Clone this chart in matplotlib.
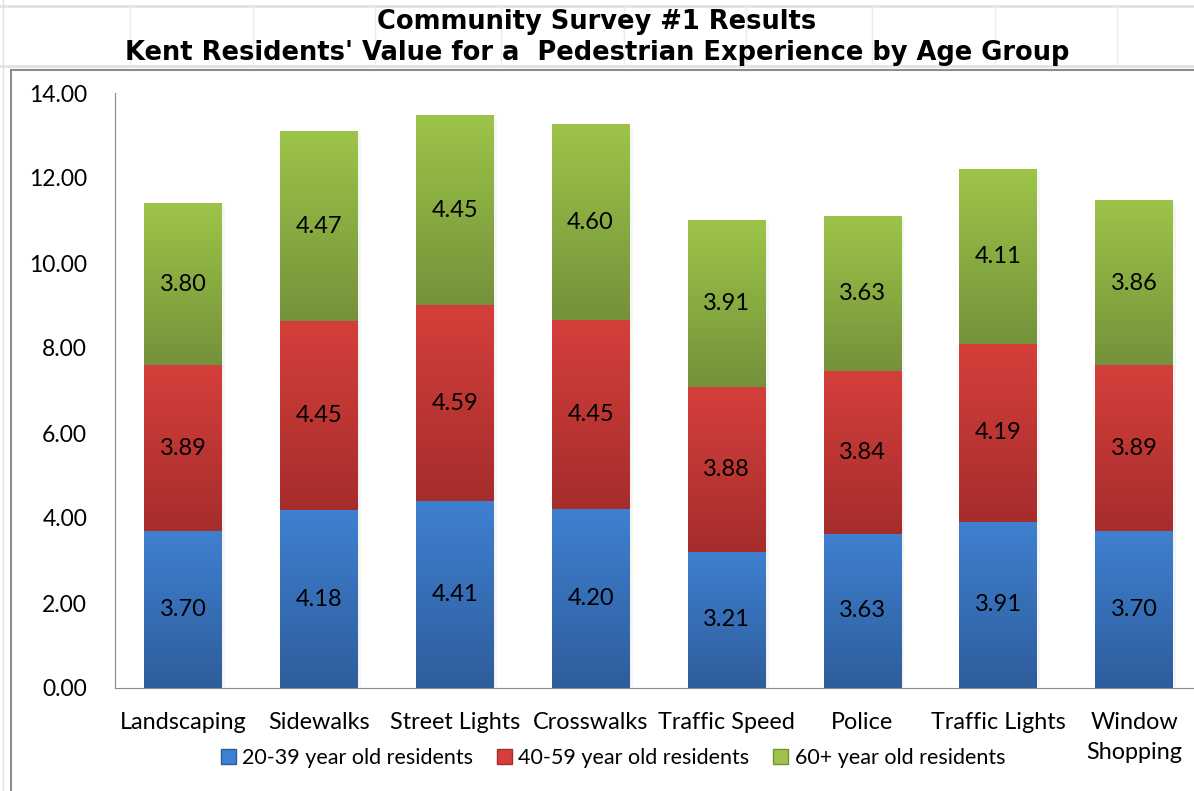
import matplotlib.pyplot as plt
import numpy as np
from matplotlib.patches import Patch, Rectangle
from matplotlib.lines import Line2D
from matplotlib.colors import LinearSegmentedColormap

# 数据
categories = ['Landscaping', 'Sidewalks', 'Street Lights', 'Crosswalks',
              'Traffic Speed', 'Police', 'Traffic Lights', 'Window\nShopping']
age_20_39 = [3.70, 4.18, 4.41, 4.20, 3.21, 3.63, 3.91, 3.70]
age_40_59 = [3.89, 4.45, 4.59, 4.45, 3.88, 3.84, 4.19, 3.89]
age_60_up = [3.80, 4.47, 4.45, 4.60, 3.91, 3.63, 4.11, 3.86]
series_names = ['20-39 year old residents', '40-59 year old residents', '60+ year old residents']

# 渐变色 (顶部, 底部)
grads = [('#3f80d0', '#2e5d9c'), ('#d53f3b', '#a52d2c'), ('#9dc449', '#74923a')]

plt.rcParams['font.family'] = ['Lato', 'DejaVu Sans']

fig = plt.figure(figsize=(11.94, 7.91), dpi=100)
ax = fig.add_axes([115 / 1194, 1 - 688 / 791, (1202 - 115) / 1194, (688 - 93) / 791])

x = np.arange(len(categories))
width = 0.57
grad = np.linspace(0, 1, 256).reshape(-1, 1)

bottom = np.zeros(len(categories))
for vals, (top_c, bot_c), name in zip([age_20_39, age_40_59, age_60_up], grads, series_names):
    cmap = LinearSegmentedColormap.from_list(name, [bot_c, top_c])
    for i, v in enumerate(vals):
        b = bottom[i]
        # 阴影
        ax.add_patch(Rectangle((x[i] - width / 2 + 0.025, b - 0.05), width, v,
                               color='#000000', alpha=0.04, lw=0, zorder=1))
        ax.imshow(grad, cmap=cmap, origin='lower', aspect='auto',
                  extent=[x[i] - width / 2, x[i] + width / 2, b, b + v], zorder=2)
        ax.text(x[i], b + v / 2, f'{v:.2f}', ha='center', va='center',
                fontsize=17, color='black', zorder=3)
    bottom += np.array(vals)

ax.set_xlim(-0.5, len(categories) - 0.5)
ax.set_ylim(0, 14)
ax.set_yticks(np.arange(0, 15, 2))
ax.set_yticklabels([f'{t:.2f}' for t in np.arange(0, 15, 2)], fontsize=16.5)
ax.set_xticks(x)
ax.set_xticklabels(categories, fontsize=16.8, linespacing=1.55, va='top')
ax.tick_params(axis='both', length=0)
ax.tick_params(axis='y', pad=20)
ax.tick_params(axis='x', pad=17)
for s in ['top', 'right']:
    ax.spines[s].set_visible(False)
ax.spines['left'].set_color('#888888')
ax.spines['bottom'].set_color('#888888')

# 图例
handles = [Patch(facecolor=top_c, edgecolor=bot_c) for top_c, bot_c in grads]
fig.legend(handles, series_names, loc='center', bbox_to_anchor=(613 / 1194, 1 - 758 / 791),
           ncol=3, frameon=False, fontsize=15.5, handlelength=0.7, handleheight=0.7,
           handletextpad=0.3, columnspacing=1.1)

# 标题
fig.text(0.5, 1 - 22 / 791, 'Community Survey #1 Results', ha='center', va='center',
         fontsize=18.5, fontweight='bold', family='DejaVu Sans')
fig.text(0.5, 1 - 53 / 791, "Kent Residents' Value for a  Pedestrian Experience by Age Group",
         ha='center', va='center', fontsize=18.5, fontweight='bold', family='DejaVu Sans')

# 表格背景线和图表边框
for yy in [6, 66]:
    fig.add_artist(Line2D([0, 1], [1 - yy / 791] * 2, color='#e2e2e2', lw=2))
for xx in [130, 253, 375, 501, 624, 746, 872, 995, 1117]:
    fig.add_artist(Line2D([xx / 1194] * 2, [1 - 6 / 791, 1 - 66 / 791], color='#ececec', lw=1))
fig.add_artist(Line2D([3 / 1194] * 2, [0, 1], color='#e0e0e0', lw=1))
fig.add_artist(Rectangle((11 / 1194, -0.01), 1.0, 1 - 70 / 791 + 0.01, fill=False,
                         edgecolor='#8c8c8c', lw=1.5, transform=fig.transFigure))

plt.savefig('out.png', dpi=100)
